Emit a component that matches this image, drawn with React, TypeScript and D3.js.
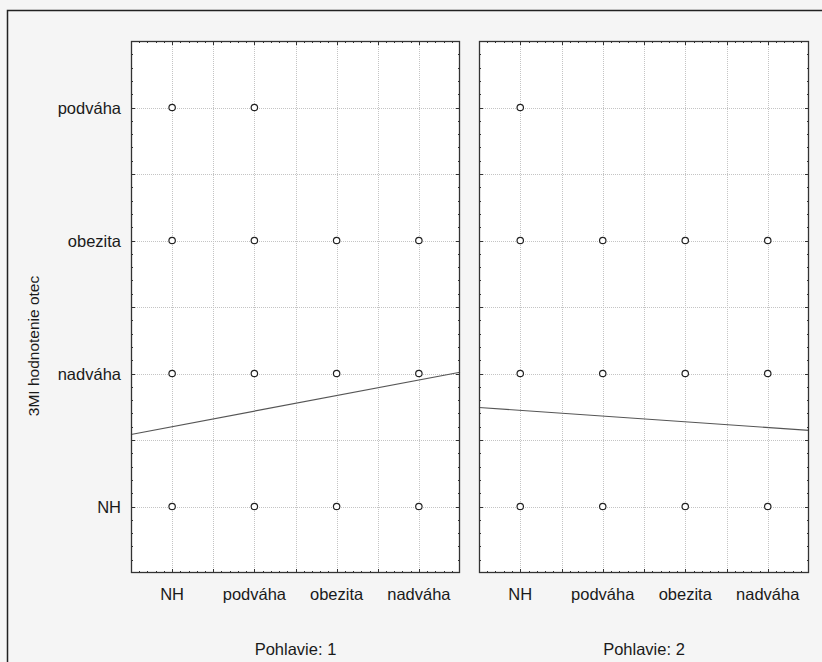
import React, { useEffect, useRef } from 'react';
import * as d3 from 'd3';

// categories (x = BMI hodnotenie, y = BMI hodnotenie otec)
const categories = ['NH', 'podváha', 'obezita', 'nadváha'];
const yCategories = ['NH', 'nadváha', 'obezita', 'podváha'];

// panels (Pohlavie)
const panelTitles = ['Pohlavie: 1', 'Pohlavie: 2'];

// points per panel: [x code, y code]
const points1 = [
  [1, 4], [2, 4],
  [1, 3], [2, 3], [3, 3], [4, 3],
  [1, 2], [2, 2], [3, 2], [4, 2],
  [1, 1], [2, 1], [3, 1], [4, 1]
];
const points2 = [
  [1, 4],
  [1, 3], [2, 3], [3, 3], [4, 3],
  [1, 2], [2, 2], [3, 2], [4, 2],
  [1, 1], [2, 1], [3, 1], [4, 1]
];

// fitted line: intercept, slope
const fits = [
  [1.483, 0.117],
  [1.766, -0.043]
];

const W = 822, H = 662;

function App() {
  const ref = useRef(null);

  useEffect(() => {
    const svg = d3.select(ref.current);
    svg.selectAll('*').remove();

    const font = '"Liberation Sans", Arial, sans-serif';

    svg.append('rect').attr('width', W).attr('height', H).attr('fill', '#f5f5f5');
    // outer frame
    svg.append('rect')
      .attr('x', 7.5).attr('y', 10.5)
      .attr('width', W).attr('height', H)
      .attr('fill', 'none').attr('stroke', '#222').attr('stroke-width', 1.5);

    const top = 41, bottom = 573;
    const panels = [
      { left: 131, right: 460, pts: points1, fit: fits[0], title: panelTitles[0] },
      { left: 479, right: 809, pts: points2, fit: fits[1], title: panelTitles[1] }
    ];

    const yScale = d3.scaleLinear().domain([0.5, 4.5]).range([bottom, top]);
    const gridVals = d3.range(1, 9).map(d => d * 0.5 + 0.5).filter(v => v > 0.5 && v < 4.5);
    const minorVals = d3.range(6, 45).map(d => d / 10);

    panels.forEach((p) => {
      const xScale = d3.scaleLinear().domain([0.5, 4.5]).range([p.left, p.right]);
      const g = svg.append('g');

      g.append('rect')
        .attr('x', p.left).attr('y', top)
        .attr('width', p.right - p.left).attr('height', bottom - top)
        .attr('fill', '#fff');

      // grid
      g.selectAll('.gx').data(gridVals).enter().append('line')
        .attr('x1', d => Math.round(xScale(d)) + 0.5).attr('x2', d => Math.round(xScale(d)) + 0.5)
        .attr('y1', top).attr('y2', bottom)
        .attr('stroke', '#c4c4c4').attr('stroke-dasharray', '1,1');
      g.selectAll('.gy').data(gridVals).enter().append('line')
        .attr('y1', d => Math.round(yScale(d)) + 0.5).attr('y2', d => Math.round(yScale(d)) + 0.5)
        .attr('x1', p.left).attr('x2', p.right)
        .attr('stroke', '#c4c4c4').attr('stroke-dasharray', '1,1');

      // minor ticks, inward
      minorVals.forEach(v => {
        const major = Math.abs(v * 2 - Math.round(v * 2)) < 1e-6;
        const len = major ? 4 : 2;
        const x = Math.round(xScale(v)) + 0.5;
        const y = Math.round(yScale(v)) + 0.5;
        g.append('line').attr('x1', x).attr('x2', x).attr('y1', top).attr('y2', top + len).attr('stroke', '#333');
        g.append('line').attr('x1', x).attr('x2', x).attr('y1', bottom).attr('y2', bottom - len).attr('stroke', '#333');
        g.append('line').attr('y1', y).attr('y2', y).attr('x1', p.left).attr('x2', p.left + len).attr('stroke', '#333');
        g.append('line').attr('y1', y).attr('y2', y).attr('x1', p.right).attr('x2', p.right - len).attr('stroke', '#333');
      });

      // fitted line
      const line = d3.line<number>()
        .x(d => xScale(d))
        .y(d => yScale(p.fit[0] + p.fit[1] * d));
      g.append('path')
        .attr('d', line([0.5, 4.5]))
        .attr('fill', 'none').attr('stroke', '#555').attr('stroke-width', 1.2);

      // points
      g.selectAll('circle').data(p.pts).enter().append('circle')
        .attr('cx', d => xScale(d[0])).attr('cy', d => yScale(d[1]))
        .attr('r', 3.2)
        .attr('fill', '#fff').attr('stroke', '#222').attr('stroke-width', 1.2);

      // frame
      g.append('rect')
        .attr('x', p.left + 0.5).attr('y', top + 0.5)
        .attr('width', p.right - p.left - 1).attr('height', bottom - top - 1)
        .attr('fill', 'none').attr('stroke', '#333').attr('stroke-width', 1.3);

      // x tick labels
      g.selectAll('.xl').data(categories).enter().append('text')
        .attr('x', (d, i) => xScale(i + 1)).attr('y', 600)
        .attr('text-anchor', 'middle')
        .attr('font-family', font).attr('font-size', 16.5).attr('fill', '#1a1a1a')
        .text(d => d);

      g.append('text')
        .attr('x', (p.left + p.right) / 2).attr('y', 655)
        .attr('text-anchor', 'middle')
        .attr('font-family', font).attr('font-size', 16.5).attr('fill', '#1a1a1a')
        .text(p.title);
    });

    // y tick labels
    svg.selectAll('.yl').data(yCategories).enter().append('text')
      .attr('x', 121).attr('y', (d, i) => yScale(i + 1) + 6)
      .attr('text-anchor', 'end')
      .attr('font-family', font).attr('font-size', 16.5).attr('fill', '#1a1a1a')
      .text(d => d);

    svg.append('text')
      .attr('transform', 'translate(39,' + 346 + ') rotate(-90)')
      .attr('text-anchor', 'middle')
      .attr('font-family', font).attr('font-size', 15.5).attr('fill', '#1a1a1a')
      .text('3MI hodnotenie otec');
  }, []);

  return (
    <svg ref={ref} width={W} height={H} style={{ position: 'absolute', left: 0, top: 0 }} />
  );
}

export default App;
